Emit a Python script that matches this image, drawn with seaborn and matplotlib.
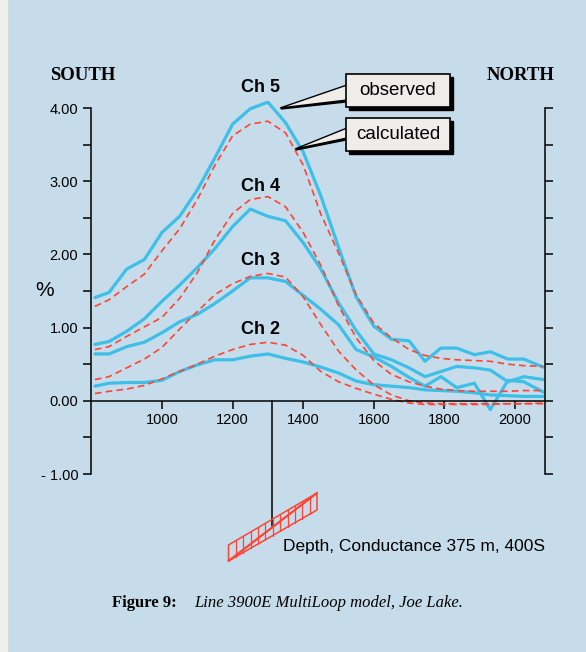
import pandas as pd
import matplotlib.pyplot as plt
import seaborn as sns
from matplotlib.patches import Rectangle, Polygon
from matplotlib.lines import Line2D
from matplotlib.ticker import FixedLocator, MultipleLocator

# Station positions (m) and channel responses (%)
stations = [810, 850, 900, 950, 1000, 1050, 1100, 1150, 1200, 1250, 1300, 1350, 1400,
            1450, 1500, 1550, 1600, 1650, 1700, 1745, 1790, 1835, 1885, 1930, 1980, 2025, 2080]

ch5_obs = [1.41, 1.48, 1.80, 1.93, 2.30, 2.52, 2.88, 3.32, 3.78, 3.99, 4.08, 3.80, 3.40,
           2.80, 2.10, 1.42, 1.02, 0.84, 0.82, 0.54, 0.72, 0.72, 0.63, 0.67, 0.57, 0.57, 0.46]
ch4_obs = [0.77, 0.81, 0.95, 1.12, 1.36, 1.58, 1.82, 2.08, 2.38, 2.62, 2.52, 2.46, 2.16,
           1.80, 1.34, 0.96, 0.64, 0.56, 0.45, 0.33, 0.40, 0.47, 0.45, 0.42, 0.26, 0.33, 0.29]
ch3_obs = [0.64, 0.64, 0.74, 0.80, 0.93, 1.08, 1.18, 1.33, 1.50, 1.68, 1.68, 1.63, 1.44,
           1.25, 1.04, 0.70, 0.60, 0.47, 0.32, 0.20, 0.33, 0.18, 0.24, -0.12, 0.28, 0.26, 0.12]
ch2_obs = [0.20, 0.24, 0.25, 0.25, 0.28, 0.40, 0.49, 0.56, 0.56, 0.61, 0.64, 0.58, 0.53,
           0.46, 0.38, 0.27, 0.22, 0.20, 0.18, 0.15, 0.14, 0.13, 0.11, 0.08, 0.07, 0.06, 0.06]

ch5_calc = [1.29, 1.38, 1.56, 1.73, 2.05, 2.35, 2.75, 3.22, 3.62, 3.78, 3.82, 3.66, 3.22,
            2.55, 2.02, 1.45, 1.06, 0.86, 0.70, 0.62, 0.58, 0.56, 0.55, 0.54, 0.50, 0.48, 0.47]
ch4_calc = [0.70, 0.74, 0.88, 1.01, 1.14, 1.40, 1.75, 2.20, 2.56, 2.75, 2.79, 2.65, 2.30,
            1.85, 1.30, 0.86, 0.55, 0.36, 0.26, 0.20, 0.16, 0.14, 0.13, 0.13, 0.13, 0.14, 0.14]
ch3_calc = [0.29, 0.33, 0.45, 0.57, 0.73, 0.98, 1.22, 1.45, 1.60, 1.70, 1.74, 1.69, 1.42,
            1.04, 0.68, 0.42, 0.22, 0.08, 0.00, -0.03, -0.04, -0.04, -0.04, -0.04, -0.04, -0.04, -0.03]
ch2_calc = [0.10, 0.13, 0.16, 0.21, 0.30, 0.40, 0.50, 0.61, 0.70, 0.77, 0.80, 0.76, 0.62,
            0.40, 0.26, 0.17, 0.09, 0.02, -0.03, -0.05, -0.05, -0.05, -0.05, -0.05, -0.04, -0.04, -0.04]

channels = ["Ch 5", "Ch 4", "Ch 3", "Ch 2"]
label_y = [4.28, 2.93, 1.91, 0.98]
x_ticks = [1000, 1200, 1400, 1600, 1800, 2000]
y_ticks = [4, 3, 2, 1, 0, -1]
y_labels = ["4.00", "3.00", "2.00", "1.00", "0.00", "- 1.00"]

obs = {"Ch 5": ch5_obs, "Ch 4": ch4_obs, "Ch 3": ch3_obs, "Ch 2": ch2_obs}
calc = {"Ch 5": ch5_calc, "Ch 4": ch4_calc, "Ch 3": ch3_calc, "Ch 2": ch2_calc}

rows = []
for ch in channels:
    for s, v in zip(stations, obs[ch]):
        rows.append((ch, "observed", s, v))
    for s, v in zip(stations, calc[ch]):
        rows.append((ch, "calculated", s, v))
df = pd.DataFrame(rows, columns=["channel", "kind", "station", "value"])

sns.set_style("ticks")
plt.rcParams["font.family"] = ["Liberation Sans", "DejaVu Sans"]
plt.rcParams["text.color"] = "black"
plt.rcParams["xtick.color"] = "black"
plt.rcParams["ytick.color"] = "black"
plt.rcParams["axes.labelcolor"] = "black"

BG = "#c6dcea"
CYAN = "#3dbfe8"
RED = "#ff4433"
PAPER = "#efede9"
W, H = 586, 652

fig = plt.figure(figsize=(5.86, 6.52), dpi=100)
fig.patch.set_facecolor(BG)
fig.patches.append(Rectangle((0, 0), 7 / W, 1, transform=fig.transFigure,
                             color="#f1efea", zorder=0))

ax = fig.add_axes([91.4 / W, 1 - 474 / H, (545 - 91.4) / W, (474 - 100.7) / H])
ax.set_facecolor("none")

sns.lineplot(data=df[df["kind"] == "observed"], x="station", y="value", units="channel",
             estimator=None, sort=False, color=CYAN, lw=2.3, ax=ax, legend=False)
sns.lineplot(data=df[df["kind"] == "calculated"], x="station", y="value", units="channel",
             estimator=None, sort=False, color=RED, lw=1.2, linestyle=(0, (4, 2.5)),
             ax=ax, legend=False)

ax.set_xlim(800, 2085)
ax.set_ylim(-1.0, 4.1)
ax.set_xlabel("")
ax.set_ylabel("")

# axes styling
ax.spines["top"].set_visible(False)
ax.spines["bottom"].set_position(("data", 0))
ax.spines["left"].set_bounds(-1, 4)
ax.spines["right"].set_bounds(-1, 4)
for sp in ["left", "right", "bottom"]:
    ax.spines[sp].set_linewidth(1.1)
    ax.spines[sp].set_color("black")

ax.xaxis.set_major_locator(FixedLocator(x_ticks))
ax.yaxis.set_major_locator(FixedLocator(y_ticks))
ax.yaxis.set_minor_locator(MultipleLocator(0.5))
ax.set_yticklabels(y_labels)
ax.tick_params(axis="y", which="both", direction="out", length=6, width=1.1,
               left=True, right=True, labelleft=True, labelright=False, labelsize=10.5,
               colors="black")
ax.tick_params(axis="x", direction="out", length=6, width=1.1, labelsize=10.5, pad=3,
               colors="black")

fig.text(45 / W, 1 - 290 / H, "%", fontsize=15, ha="center", va="center")

# channel labels
for ch, ly in zip(channels, label_y):
    ax.text(1280, ly, ch, ha="center", va="center", fontsize=13, fontweight="bold",
            color="black")

# direction labels
fig.text(83 / W, 1 - 76 / H, "SOUTH", ha="center", va="center", fontsize=13.5,
         fontweight="bold", family="Liberation Serif")
fig.text(521 / W, 1 - 76 / H, "NORTH", ha="center", va="center", fontsize=13.5,
         fontweight="bold", family="Liberation Serif")


def fp(px, py):
    return (px / W, 1 - py / H)


def callout(x0, y0, x1, y1, tip, b0, b1, text):
    sh = 3
    wedge_sh = Polygon([fp(x0, b0 + 2), fp(x0, b1 + 2), fp(tip[0] + 1, tip[1] + 1)],
                       closed=True, transform=fig.transFigure, color="black", zorder=5)
    wedge = Polygon([fp(x0 + 1, b0), fp(x0 + 1, b1), fp(*tip)], closed=True,
                    transform=fig.transFigure, facecolor=PAPER, edgecolor="black",
                    lw=1.0, zorder=6)
    shadow = Rectangle(fp(x0 + sh, y1 + sh), (x1 - x0) / W, (y1 - y0) / H,
                       transform=fig.transFigure, color="black", zorder=7)
    box = Rectangle(fp(x0, y1), (x1 - x0) / W, (y1 - y0) / H, transform=fig.transFigure,
                    facecolor=PAPER, edgecolor="black", lw=1.2, zorder=8)
    for p in [wedge_sh, wedge, shadow, box]:
        fig.patches.append(p)
    fig.text((x0 + x1) / 2 / W, 1 - (y0 + y1) / 2 / H, text, ha="center", va="center",
             fontsize=13.5, zorder=9)


callout(346, 74, 450, 107, (280, 108), 85, 100, "observed")
callout(346, 118, 450, 151, (295, 149), 128, 138, "calculated")

# conductor model below the profile
ax.plot([1313, 1313], [0, -1.71], color="black", lw=1.1, clip_on=False)
xl, xr = 228.5, 317.0
tl, tr = 545.0, 493.0
bl, br = 561.0, 510.0
outline = Polygon([fp(xl, tl), fp(xr, tr), fp(xr, br), fp(xl, bl)], closed=True,
                  transform=fig.transFigure, fill=False, edgecolor=RED, lw=1.1, zorder=4)
fig.patches.append(outline)
fig.lines.append(Line2D([xl / W, xr / W], [1 - bl / H, 1 - tr / H],
                        transform=fig.transFigure, color=RED, lw=1.6, zorder=4))
n = 12
for i in range(1, n):
    px = xl + (xr - xl) * i / n
    t = (px - xl) / (xr - xl)
    ytop = tl + (tr - tl) * t
    ybot = bl + (br - bl) * t
    fig.lines.append(Line2D([px / W, px / W], [1 - ytop / H, 1 - ybot / H],
                            transform=fig.transFigure, color=RED, lw=0.9, zorder=4))

fig.text(283 / W, 1 - 546 / H, "Depth, Conductance 375 m, 400S", ha="left", va="center",
         fontsize=12.5)

# caption
fig.text(112 / W, 1 - 603 / H, "Figure 9:", ha="left", va="center", fontsize=12,
         fontweight="bold", family="Liberation Serif")
fig.text(194 / W, 1 - 603 / H, "Line 3900E MultiLoop model, Joe Lake.", ha="left",
         va="center", fontsize=12, style="italic", family="Liberation Serif")

plt.savefig("out.png", dpi=100, facecolor=BG)
